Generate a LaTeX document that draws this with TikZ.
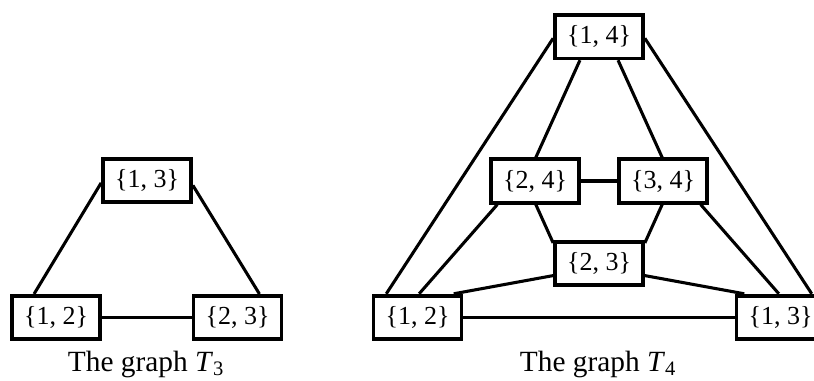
\documentclass[tikz,border=0pt]{standalone}
\usepackage{fontspec}
\setmainfont{Liberation Serif}
\newcommand{\pair}[2]{\{#1, #2\}}

\begin{document}
\begin{tikzpicture}[x=0.75pt, y=-0.75pt,
	vertex/.style={draw, line width=2.8pt, minimum width=66pt, minimum height=32.5pt, inner sep=0pt, font=\fontsize{19.5}{22}\selectfont},
	edge/.style={line width=2.3pt},
	caption/.style={anchor=base, font=\fontsize{22}{26}\selectfont}]
	\useasboundingbox (0, 0) rectangle (814, 380);
	% the graph T_3
	\node[vertex] (a13) at (147, 180.5) {\pair{1}{3}};
	\node[vertex] (a12) at (56, 317.5) {\pair{1}{2}};
	\node[vertex] (a23) at (237.5, 317.5) {\pair{2}{3}};
	\draw[edge] (a12.133) -- (a13.183);
	\draw[edge] (a13.354) -- (a23.47);
	\draw[edge] (a12.east) -- (a23.west);
	\node[caption] (capa) at (146, 371) {The graph \textit{T}\textsubscript{3}};
	
	% the graph T_4
	\node[vertex] (b14) at (599, 36.7) {\pair{1}{4}};
	\node[vertex] (b24) at (535, 181) {\pair{2}{4}};
	\node[vertex] (b34) at (663, 181) {\pair{3}{4}};
	\node[vertex] (b23) at (599, 263.3) {\pair{2}{3}};
	\node[vertex] (b12) at (417.5, 317.3) {\pair{1}{2}};
	\node[vertex] (b13) at (780.5, 317.3) {\pair{1}{3}};
	\draw[edge] (b14.182) -- (b12.143);
	\draw[edge] (b14.231) -- (b24.88);
	\draw[edge] (b14.309) -- (b34.92);
	\draw[edge] (b14.358) -- (b13.37);
	\draw[edge] (b24.east) -- (b34.west);
	\draw[edge] (b24.212) -- (b12.86);
	\draw[edge] (b24.272) -- (b23.156);
	\draw[edge] (b34.268) -- (b23.24);
	\draw[edge] (b34.328) -- (b13.94);
	\draw[edge] (b23.195) -- (b12.33);
	\draw[edge] (b23.345) -- (b13.147);
	\draw[edge] (b12.east) -- (b13.west);
	\node[caption] (capb) at (598, 371) {The graph \textit{T}\textsubscript{4}};
\end{tikzpicture}
\end{document}
